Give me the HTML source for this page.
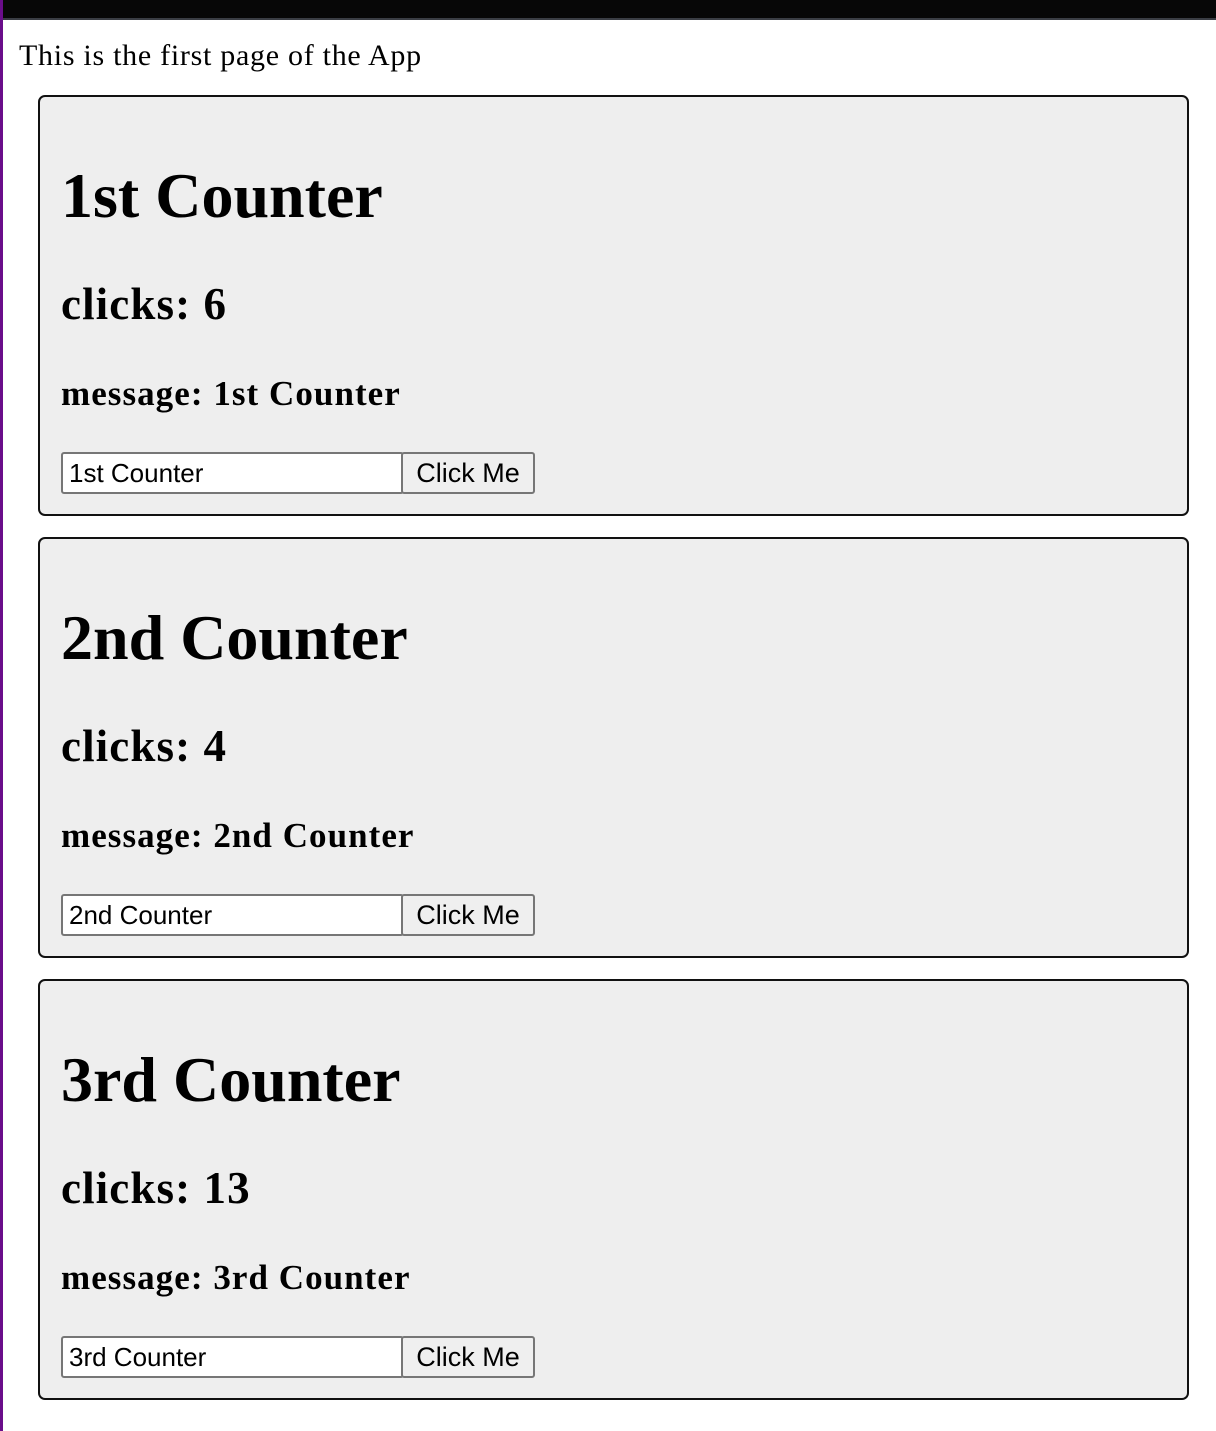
<!DOCTYPE html>
<html><head><meta charset="utf-8"><style>
body{margin:0;width:1216px;height:1431px;background:#fff;position:relative;overflow:hidden;font-family:"Liberation Serif",serif;}
.top{position:absolute;left:0;top:0;width:1216px;height:18px;background:#070707;border-bottom:2px solid #3a3d44;}
.lb{position:absolute;left:0;top:0;width:3px;height:1431px;background:#6a0d8a;}
.t{position:absolute;left:19px;top:41px;font-size:30px;line-height:1;white-space:nowrap;letter-spacing:0.72px;}
.box{position:absolute;left:38px;width:1147px;height:417px;border:2px solid #111;border-radius:7px;background:#eee;}
.box div{position:absolute;left:21px;line-height:1;font-weight:bold;white-space:nowrap;color:#000;}
.h1{top:67px;font-size:64px;}
.h2{top:185px;font-size:45px;letter-spacing:1.1px;}
.h3{top:279px;font-size:35px;letter-spacing:1.05px;}
.inp{position:absolute;left:21px;top:355px;width:333px;height:38px;border:2px solid #767676;border-radius:3px;background:#fff;font:26px "Liberation Sans",sans-serif;line-height:38px;padding-left:6px;box-sizing:content-box;}
.btn{position:absolute;left:361px;top:355px;width:130px;height:38px;border:2px solid #767676;border-radius:3px;background:#efefef;font:27px "Liberation Sans",sans-serif;line-height:38px;text-align:center;}
</style></head><body>
<div class="top"></div><div class="lb"></div>
<div class="t">This is the first page of the App</div>
<div class="box" style="top:95px"><div class="h1">1st Counter</div><div class="h2">clicks: 6</div><div class="h3">message: 1st Counter</div><span class="inp">1st Counter</span><span class="btn">Click Me</span></div>
<div class="box" style="top:537px"><div class="h1">2nd Counter</div><div class="h2">clicks: 4</div><div class="h3">message: 2nd Counter</div><span class="inp">2nd Counter</span><span class="btn">Click Me</span></div>
<div class="box" style="top:979px"><div class="h1">3rd Counter</div><div class="h2">clicks: 13</div><div class="h3">message: 3rd Counter</div><span class="inp">3rd Counter</span><span class="btn">Click Me</span></div>
</body></html>
